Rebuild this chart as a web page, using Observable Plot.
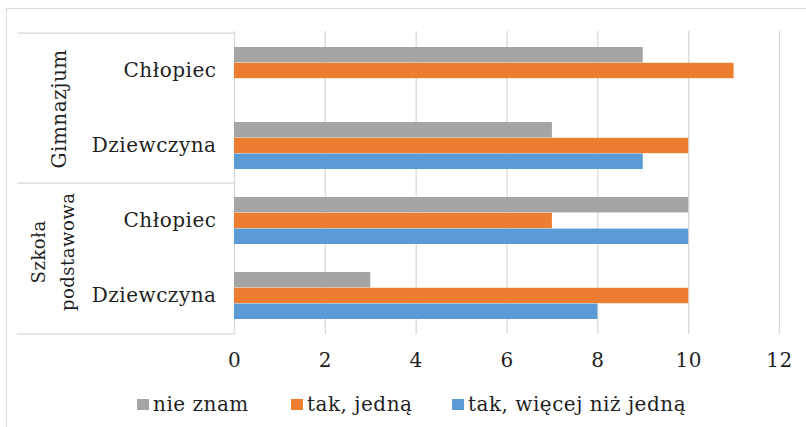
<!DOCTYPE html>
<html><head><meta charset="utf-8">
<script src="https://cdn.jsdelivr.net/npm/d3@7"></script>
<script src="https://cdn.jsdelivr.net/npm/@observablehq/plot@0.6"></script>
<style>
html,body{margin:0;padding:0;background:#fff;overflow:hidden;width:806px;height:427px;}
#frame{position:absolute;left:6px;top:8px;width:900px;height:500px;border:1px solid #d9d9d9;box-sizing:border-box;}
#chart{position:absolute;left:0;top:0;}
#legend{position:absolute;left:0;top:393px;height:22px;font-family:"DejaVu Serif";font-size:20px;letter-spacing:0.5px;color:#1f1f1f;white-space:nowrap;}
.item{display:flex;align-items:center;position:absolute;top:0;height:22px;line-height:22px;}
.sw{width:12px;height:11px;margin-right:4px;display:inline-block;}
</style></head><body>
<div id="frame"></div><div id="chart"></div><div id="legend"></div>
<script>
// ---- data ----
const groups = ["Gimnazjum", "Gimnazjum", "Szkoła podstawowa", "Szkoła podstawowa"];
const genders = ["Chłopiec", "Dziewczyna", "Chłopiec", "Dziewczyna"];
const groupLabels = ["Gimnazjum", "Szkoła\npodstawowa"];
const seriesNames = ["nie znam", "tak, jedną", "tak, więcej niż jedną"];
const nieZnam = [9, 7, 10, 3];
const takJedna = [11, 10, 7, 10];
const takWiecej = [0, 9, 10, 8];
const xTicks = [0, 2, 4, 6, 8, 10, 12];
const seriesColors = ["#a5a5a5", "#ed7d31", "#5b9bd5"];

// ---- build table ----
const keys = groups.map((g, i) => g + "|" + genders[i]);
const seriesValues = [nieZnam, takJedna, takWiecej];
const rows = [];
seriesNames.forEach((s, si) => keys.forEach((k, i) => rows.push({key: k, series: s, value: seriesValues[si][i]})));

// ---- layout ----
const W = 806, H = 380, mTop = 31, mBottom = 46, mLeft = 234, mRight = 27;
const pI = 0.375, pO = 0.1875;
const innerH = H - mTop - mBottom;
const step = innerH / (keys.length - pI + 2 * pO);
const bw = step * (1 - pI);
const barH = bw / seriesNames.length;
const textColor = "#1f1f1f";
const gridColor = "#d9d9d9";

const barMarks = seriesNames.map((s, si) =>
  Plot.barX(rows.filter(d => d.series === s), {
    x: "value", y: "key", fill: "series",
    insetTop: si * barH, insetBottom: (seriesNames.length - 1 - si) * barH
  })
);

// group label anchors: first key of each group
const firstKeys = [keys[0], keys[2]];
const plot = Plot.plot({
  width: W, height: H,
  marginTop: mTop, marginBottom: mBottom, marginLeft: mLeft, marginRight: mRight,
  style: {fontFamily: "DejaVu Serif", fontSize: "20px", letterSpacing: "0.5px", color: textColor, background: "transparent"},
  x: {domain: [0, 12], ticks: xTicks, label: null},
  y: {type: "band", domain: keys, paddingInner: pI, paddingOuter: pO, label: null},
  color: {domain: seriesNames, range: seriesColors},
  marks: [
    Plot.gridX(xTicks, {stroke: gridColor, strokeOpacity: 1, strokeWidth: 1.3}),
    ...barMarks,
    Plot.axisX({ticks: xTicks, tickSize: 0, tickPadding: 18, label: null, fill: textColor}),
    Plot.axisY({tickSize: 0, tickPadding: 18, tickFormat: k => k.split("|")[1], label: null, fill: textColor}),
    // category separators in the label area
    Plot.ruleY([keys[0], keys[2]], {x1: 0, x2: 0, insetLeft: -217, dy: -step / 2, stroke: gridColor, strokeWidth: 1.3}),
    Plot.ruleY([keys[3]], {x1: 0, x2: 0, insetLeft: -217, dy: step / 2, stroke: gridColor, strokeWidth: 1.3}),
    // group labels
    Plot.text([firstKeys[0]], {y: d => d, text: () => groupLabels[0], rotate: -90, frameAnchor: "left", textAnchor: "middle", dx: -175, dy: step / 2, fill: textColor}),
    Plot.text([firstKeys[1]], {y: d => d, text: () => groupLabels[1], rotate: -90, frameAnchor: "left", textAnchor: "middle", dx: -184, dy: step / 2 - 7, fill: textColor, fontSize: 18, lineHeight: 1.6})
  ]
});
document.getElementById("chart").appendChild(plot);

// ---- legend ----
const legend = document.getElementById("legend");
const lefts = [137, 291, 452];
seriesNames.forEach((s, i) => {
  const it = document.createElement("div");
  it.className = "item";
  it.style.left = lefts[i] + "px";
  const sw = document.createElement("span");
  sw.className = "sw";
  sw.style.background = seriesColors[i];
  it.appendChild(sw);
  it.appendChild(document.createTextNode(s));
  legend.appendChild(it);
});
</script></body></html>
